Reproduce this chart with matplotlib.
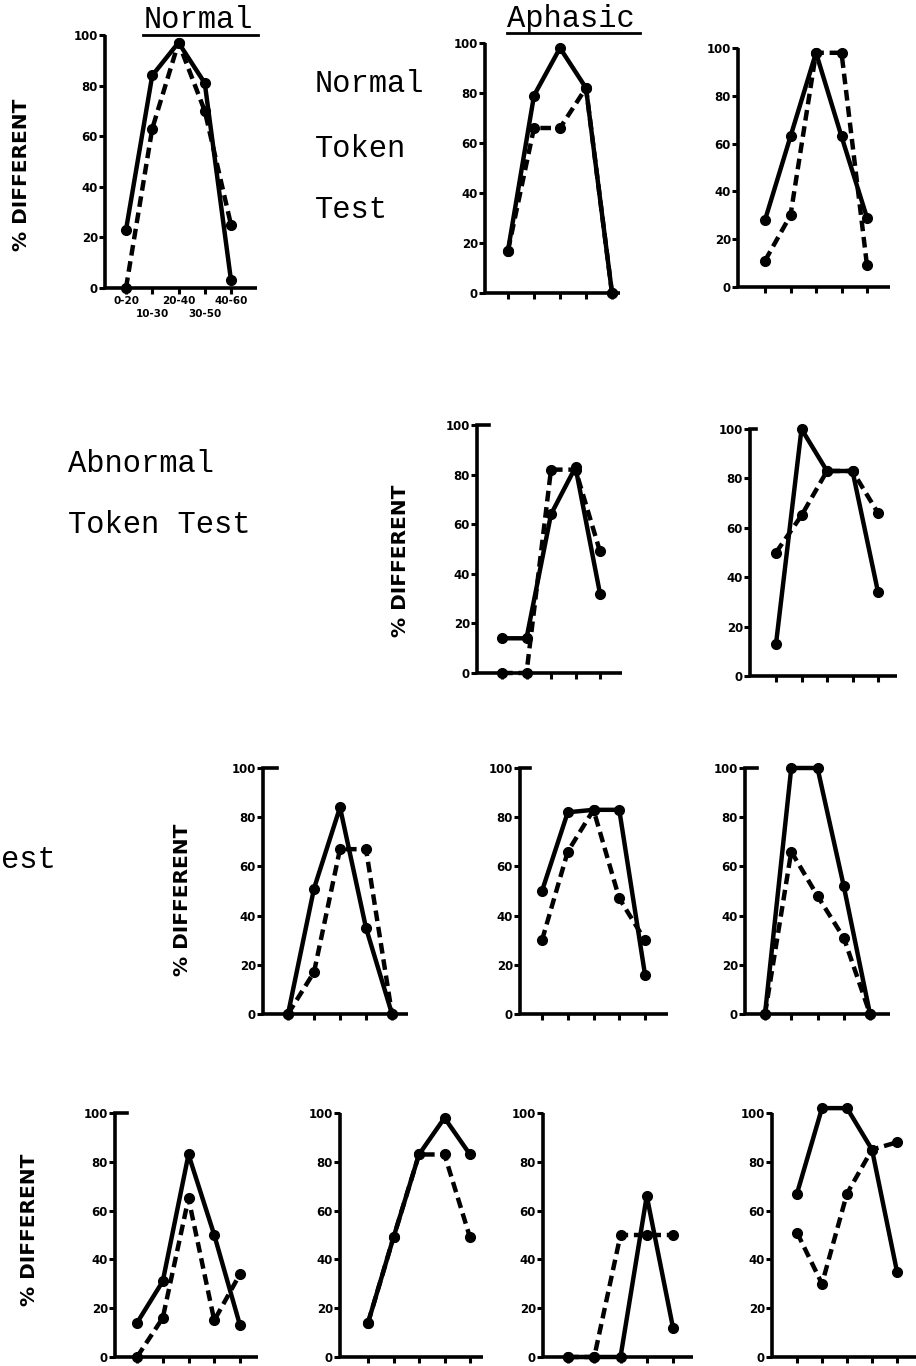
import matplotlib
matplotlib.use("Agg")
import matplotlib.pyplot as plt
from matplotlib.lines import Line2D

W, H = 916, 1366
DPI = 100

# ---- data -------------------------------------------------------------
x_groups = [1, 2, 3, 4, 5]
age_labels = ["0-20", "10-30", "20-40", "30-50", "40-60"]
y_ticks = [0, 20, 40, 60, 80, 100]

normal_solid = [23, 84, 97, 81, 3]
normal_dashed = [0, 63, 97, 70, 25]

ntt_a_solid = [17, 79, 98, 82, 0]
ntt_a_dashed = [17, 66, 66, 82, 0]
ntt_b_solid = [28, 63, 98, 63, 29]
ntt_b_dashed = [11, 30, 98, 98, 9]

att_a_solid = [14, 14, 64, 83, 32]
att_a_dashed = [0, 0, 82, 82, 49]
att_b_solid = [13, 100, 83, 83, 34]
att_b_dashed = [50, 65, 83, 83, 66]

r3_a_solid = [0, 51, 84, 35, 0]
r3_a_dashed = [0, 17, 67, 67, 0]
r3_b_solid = [50, 82, 83, 83, 16]
r3_b_dashed = [30, 66, 83, 47, 30]
r3_c_solid = [0, 100, 100, 52, 0]
r3_c_dashed = [0, 66, 48, 31, 0]

r4_a_solid = [14, 31, 83, 50, 13]
r4_a_dashed = [0, 16, 65, 15, 34]
r4_b_solid = [14, 49, 83, 98, 83]
r4_b_dashed = [14, 49, 83, 83, 49]
r4_c_solid = [0, 0, 0, 66, 12]
r4_c_dashed = [0, 0, 50, 50, 50]
r4_d_solid = [67, 102, 102, 85, 35]
r4_d_dashed = [51, 30, 67, 85, 88]

# ---- layout (pixel boxes: x_left, x_right, y_top(100), y_bottom(0),
#      first tick px, last tick px, top extension px) ----------------------
panels = [
    ((105, 257, 35, 288, 126, 231, 0), normal_solid, normal_dashed, True),
    ((485, 620, 43, 293, 508, 612, 0), ntt_a_solid, ntt_a_dashed, False),
    ((738, 890, 48, 287, 765, 867, 0), ntt_b_solid, ntt_b_dashed, False),
    ((477, 622, 425, 673, 502, 600, 12), att_a_solid, att_a_dashed, False),
    ((750, 897, 429, 676, 776, 878, 6), att_b_solid, att_b_dashed, False),
    ((263, 408, 768, 1014, 288, 392, 14), r3_a_solid, r3_a_dashed, False),
    ((520, 668, 768, 1014, 542, 645, 10), r3_b_solid, r3_b_dashed, False),
    ((745, 890, 768, 1014, 765, 870, 12), r3_c_solid, r3_c_dashed, False),
    ((115, 258, 1113, 1357, 137, 240, 12), r4_a_solid, r4_a_dashed, False),
    ((340, 483, 1113, 1357, 368, 470, 0), r4_b_solid, r4_b_dashed, False),
    ((543, 693, 1113, 1357, 568, 673, 0), r4_c_solid, r4_c_dashed, False),
    ((772, 916, 1113, 1357, 797, 897, 0), r4_d_solid, r4_d_dashed, False),
]

ylabel_spots = [(22, 175), (400, 561), (183, 900), (30, 1230)]

fig = plt.figure(figsize=(W / DPI, H / DPI), dpi=DPI)
fig.patch.set_facecolor("white")

LW = 3.2
SPINE_LW = 2.6


def px_axes(xl, xr, yt, yb):
    return fig.add_axes([xl / W, 1 - yb / H, (xr - xl) / W, (yb - yt) / H])


for (xl, xr, yt, yb, t1, t5, ext), solid, dashed, show_ages in panels:
    ax = px_axes(xl, xr, yt, yb)
    step = (t5 - t1) / 4.0
    ax.set_xlim(1 - (t1 - xl) / step, 5 + (xr - t5) / step)
    ax.set_ylim(0, 100)
    ax.set_facecolor("none")

    ax.plot(x_groups, dashed, color="black", lw=LW, ls=(0, (2.4, 1.3)),
            marker="o", ms=7, mfc="black", mec="black", clip_on=False,
            zorder=3)
    ax.plot(x_groups, solid, color="black", lw=LW, ls="-",
            marker="o", ms=7, mfc="black", mec="black", clip_on=False,
            zorder=4, solid_joinstyle="round")

    for side in ("top", "right"):
        ax.spines[side].set_visible(False)
    for side in ("left", "bottom"):
        ax.spines[side].set_linewidth(SPINE_LW)
        ax.spines[side].set_capstyle("butt")

    ax.set_yticks(y_ticks)
    ax.set_yticklabels([str(v) for v in y_ticks], fontsize=8.5,
                       fontweight="bold", family="DejaVu Sans")
    ax.tick_params(axis="y", direction="out", length=4, width=2.2, pad=1)
    ax.set_xticks(x_groups)
    if show_ages:
        ax.set_xticklabels(["", "", "", "", ""])
        for i, lab in enumerate(age_labels):
            ax.annotate(lab, xy=(x_groups[i], 0), xycoords="data",
                        xytext=(0, -13 if i % 2 == 0 else -26),
                        textcoords="offset pixels", ha="center", va="center",
                        fontsize=7.5, fontweight="bold", annotation_clip=False)
    else:
        ax.set_xticklabels([])
    ax.tick_params(axis="x", direction="out", length=4, width=2.2)

    if ext:
        frac = ext / (xr - xl)
        ax.add_line(Line2D([0, frac], [1, 1], transform=ax.transAxes,
                           color="black", lw=SPINE_LW, clip_on=False))

# y-axis titles
for x, y in ylabel_spots:
    fig.text(x / W, 1 - y / H, "% DIFFERENT", rotation=90, ha="center",
             va="center", fontsize=14.5, fontweight="bold",
             family="DejaVu Sans")

MONO = "Liberation Mono"


def ftext(x, y, s, **kw):
    fig.text(x / W, 1 - y / H, s, family=MONO, fontsize=22, va="baseline",
             **kw)


ftext(198, 28, "Normal", ha="center")
ftext(571, 27, "Aphasic", ha="center")
for x0, x1, y in [(143, 258, 35), (507, 640, 33)]:
    fig.add_artist(Line2D([x0 / W, x1 / W], [1 - y / H, 1 - y / H],
                          transform=fig.transFigure, color="black", lw=2))

ftext(315, 92, "Normal")
ftext(315, 157, "Token")
ftext(315, 218, "Test")
ftext(68, 472, "Abnormal")
ftext(68, 533, "Token Test")
ftext(1, 868, "est")

fig.savefig("out.png", dpi=DPI, facecolor="white")
